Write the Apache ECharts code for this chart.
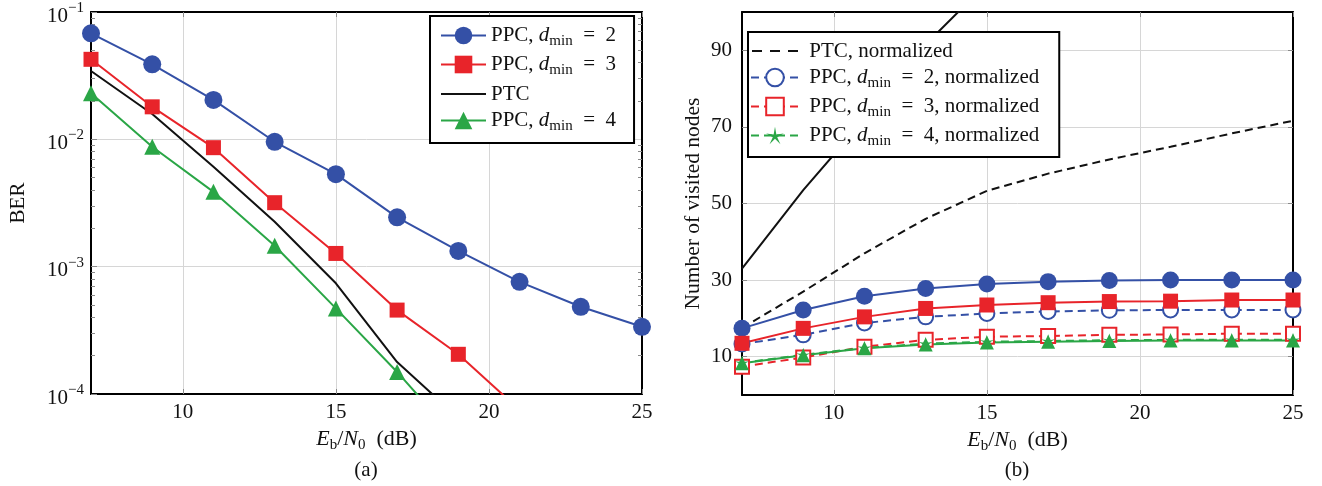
<!DOCTYPE html>
<html><head><meta charset="utf-8">
<script src="https://cdn.jsdelivr.net/npm/echarts@6/dist/echarts.min.js"></script>
<style>html,body{margin:0;padding:0;background:#fff}#c{width:1322px;height:486px}</style>
</head><body><div id="c"></div>
<script>
// ---- data ----
const ebn0 = [7, 9, 11, 13, 15, 17, 19, 21, 23, 25];
const berPPC2 = [0.068, 0.0388, 0.0204, 0.00957, 0.00533, 0.00244, 0.00133, 0.00076, 0.000484, 0.000337];
const berPPC3 = [0.0425, 0.018, 0.0086, 0.00318, 0.00127, 0.000456, 0.000205, 0.000075];
const berPTC  = [0.0344, 0.0158, 0.0061, 0.00225, 0.00074, 0.000178, 0.000065];
const berPPC4 = [0.023, 0.00875, 0.00387, 0.00146, 0.00047, 0.000149, 0.000043];

const nodesPTC      = [33, 53.5, 72, 91.5, 107.5, 122, 136, 148, 160, 170];
const nodesPTCNorm  = [17.5, 27, 37, 46, 53.3, 57.8, 61.5, 64.8, 68.3, 71.6];
const nodesPPC2     = [17.4, 22.2, 25.8, 27.8, 29.0, 29.6, 29.9, 30.0, 30.0, 30.0];
const nodesPPC2Norm = [13.3, 15.7, 18.8, 20.4, 21.3, 21.8, 22.1, 22.2, 22.2, 22.2];
const nodesPPC3     = [13.5, 17.4, 20.4, 22.6, 23.5, 24.1, 24.4, 24.5, 24.8, 24.8];
const nodesPPC3Norm = [7.4, 9.8, 12.6, 14.4, 15.2, 15.4, 15.7, 15.8, 16.0, 16.0];
const nodesPPC4     = [8.3, 10.4, 12.2, 13.2, 13.7, 13.9, 14.1, 14.2, 14.2, 14.2];
const nodesPPC4Norm = [8.4, 10.5, 12.3, 13.4, 13.9, 14.1, 14.3, 14.4, 14.4, 14.4];

const xTicks = [10, 15, 20, 25];
const nodeTicks = [10, 30, 50, 70, 90];
const leftNames = ['PPC, d_min = 2', 'PPC, d_min = 3', 'PTC', 'PPC, d_min = 4'];
const rightNames = ['PTC, normalized', 'PPC, d_min = 2, normalized', 'PPC, d_min = 3, normalized', 'PPC, d_min = 4, normalized'];

// ---- style ----
const SERIF = "'Liberation Serif', 'DejaVu Serif', serif";
const BLUE = '#3450a6', RED = '#e8242a', GREEN = '#2aa646', BLACK = '#111111';
const GRID = '#d6d6d6', TICK = '#8a8a8a';
const STAR = 'path://M0,-10 L1.47,-2.02 L9.51,-3.09 L2.38,0.77 L5.88,8.09 L0,2.5 L-5.88,8.09 L-2.38,0.77 L-9.51,-3.09 L-1.47,-2.02 Z';
const ICON_SOLID = 'path://M0,0 M0,22 M0,10 L45,10 L45,12 L0,12 Z';
const ICON_DASH = 'path://M0,0 M0,22 M0,10 L10,10 L10,12 L0,12 Z M18,10 L28,10 L28,12 L18,12 Z M36,10 L46,10 L46,12 L36,12 Z';

const minorLog = [];
for (let d = -4; d < -1; d++) for (let k = 2; k <= 9; k++) minorLog.push(d + Math.log10(k));

function rich(size) {
  return {
    t: { fontFamily: SERIF, fontSize: size, color: BLACK, lineHeight: 26 },
    i: { fontFamily: SERIF, fontSize: size, color: BLACK, fontStyle: 'italic', lineHeight: 26 },
    s: { fontFamily: SERIF, fontSize: Math.round(size * 0.7), color: BLACK, padding: [12, 0, 0, 0] }
  };
}
function legendFmt(name) {
  const parts = name.replace(/ = /g, '\u2002=\u2002').split('d_min');
  return parts.map(p => p ? '{t|' + p + '}' : '').join('{i|d}{s|min}');
}
function legendFmtR(name) { return '{t| }' + legendFmt(name); }
const pair = (ys) => ys.map((v, i) => [ebn0[i], v]);

function line(name, ys, color, symbol, size, dashed, xi, yi) {
  const empty = symbol.indexOf('empty') === 0;
  return {
    type: 'line', name: name, data: pair(ys), xAxisIndex: xi, yAxisIndex: yi,
    symbol: symbol, symbolSize: size, showSymbol: symbol !== 'none',
    clip: true, animation: false, silent: true,
    lineStyle: { color: color, width: 2, type: dashed ? [8, 5] : 'solid' },
    itemStyle: { color: color, borderColor: color, borderWidth: empty ? 2 : 0 },
    emphasis: { disabled: true }
  };
}

const xBase = (gi, pos) => ({
  type: 'value', gridIndex: gi, position: pos, min: 7, max: 25,
  axisLine: { show: true, onZero: false, lineStyle: { color: '#000', width: 2 } },
  axisTick: { show: true, inside: true, length: 5, customValues: xTicks, lineStyle: { color: TICK } },
  axisLabel: pos === 'bottom' ? { show: true, customValues: xTicks, fontFamily: SERIF, fontSize: 21, color: BLACK, margin: 8 } : { show: false },
  splitLine: { show: pos === 'bottom', lineStyle: { color: GRID, width: 1 } },
  name: pos === 'bottom' ? '{i|E}{s|b}{t|/}{i|N}{s|0}{t|\u2002(dB)}' : '',
  nameLocation: 'middle', nameGap: 32,
  nameTextStyle: { rich: rich(22) }
});

const option = {
  backgroundColor: '#fff',
  animation: false,
  grid: [
    { left: 91, top: 12, width: 551, height: 382, containLabel: false },
    { left: 742, top: 12, width: 551, height: 383, containLabel: false }
  ],
  xAxis: [xBase(0, 'bottom'), xBase(0, 'top'), xBase(1, 'bottom'), xBase(1, 'top')],
  yAxis: [
    { type: 'log', logBase: 10, gridIndex: 0, position: 'left', min: 1e-4, max: 1e-1,
      axisLine: { show: true, lineStyle: { color: '#000', width: 2 } },
      axisTick: { show: true, inside: true, length: 6, lineStyle: { color: TICK } },
      axisLabel: { fontFamily: SERIF, margin: 7, color: BLACK,
        formatter: v => '{b|10}{p|\u2212' + (-Math.round(Math.log10(v))) + '}',
        rich: { b: { fontFamily: SERIF, fontSize: 21, color: BLACK, padding: [8, 0, 0, 0] },
                p: { fontFamily: SERIF, fontSize: 15, color: BLACK, padding: [0, 0, 8, 0] } } },
      splitLine: { show: true, lineStyle: { color: GRID, width: 1 } },
      name: 'BER', nameLocation: 'middle', nameGap: 62,
      nameTextStyle: { fontFamily: SERIF, fontSize: 21, color: BLACK } },
    { type: 'value', gridIndex: 0, position: 'right', min: -4, max: -1,
      axisLine: { show: true, lineStyle: { color: '#000', width: 2 } },
      axisTick: { show: true, inside: true, length: 4, customValues: minorLog, lineStyle: { color: TICK } },
      axisLabel: { show: false }, splitLine: { show: false } },
    { type: 'value', gridIndex: 0, position: 'left', min: -4, max: -1,
      axisLine: { show: false },
      axisTick: { show: true, inside: true, length: 4, customValues: minorLog, lineStyle: { color: TICK } },
      axisLabel: { show: false }, splitLine: { show: false } },
    { type: 'value', gridIndex: 1, position: 'left', min: 0, max: 100,
      axisLine: { show: true, lineStyle: { color: '#000', width: 2 } },
      axisTick: { show: true, inside: true, length: 5, customValues: nodeTicks, lineStyle: { color: TICK } },
      axisLabel: { customValues: nodeTicks, fontFamily: SERIF, fontSize: 21, color: BLACK, margin: 10 },
      splitLine: { show: true, lineStyle: { color: GRID, width: 1 } },
      name: 'Number of visited nodes', nameLocation: 'middle', nameGap: 38,
      nameTextStyle: { fontFamily: SERIF, fontSize: 21.5, color: BLACK } },
    { type: 'value', gridIndex: 1, position: 'right', min: 0, max: 100,
      axisLine: { show: true, lineStyle: { color: '#000', width: 2 } },
      axisTick: { show: true, inside: true, length: 5, customValues: nodeTicks, lineStyle: { color: TICK } },
      axisLabel: { show: false }, splitLine: { show: false } }
  ],
  legend: [
    { orient: 'vertical', left: 430, top: 16, itemWidth: 45, itemHeight: 22, itemGap: 5,
      padding: [9, 18, 9, 10], borderColor: '#000', borderWidth: 2, backgroundColor: '#fff',
      selectedMode: false,
      data: leftNames.map(n => n === 'PTC' ? { name: n, icon: ICON_SOLID } : n),
      formatter: legendFmt,
      textStyle: { fontFamily: SERIF, fontSize: 21, color: BLACK, rich: rich(21) } },
    { orient: 'vertical', left: 748, top: 32, itemWidth: 48, itemHeight: 22, itemGap: 5,
      padding: [8, 20, 8, 2], borderColor: '#000', borderWidth: 2, backgroundColor: '#fff',
      selectedMode: false,
      data: rightNames.map(n => n === 'PTC, normalized' ? { name: n, icon: ICON_DASH } : n),
      formatter: legendFmtR,
      textStyle: { fontFamily: SERIF, fontSize: 21, color: BLACK, rich: rich(21) } }
  ],
  graphic: [
    { type: 'text', x: 366, y: 470, style: { text: '(a)', font: '21px ' + SERIF, fill: BLACK, align: 'center', verticalAlign: 'middle' } },
    { type: 'text', x: 1017, y: 470, style: { text: '(b)', font: '21px ' + SERIF, fill: BLACK, align: 'center', verticalAlign: 'middle' } }
  ],
  series: [
    line(leftNames[0], berPPC2, BLUE, 'circle', 18, false, 0, 0),
    line(leftNames[1], berPPC3, RED, 'rect', 15, false, 0, 0),
    line(leftNames[2], berPTC, BLACK, 'none', 0, false, 0, 0),
    line(leftNames[3], berPPC4, GREEN, 'triangle', 16, false, 0, 0),

    line('PTC', nodesPTC, BLACK, 'none', 0, false, 2, 3),
    line(rightNames[0], nodesPTCNorm, BLACK, 'none', 0, true, 2, 3),
    line('PPC2', nodesPPC2, BLUE, 'circle', 17, false, 2, 3),
    line(rightNames[1], nodesPPC2Norm, BLUE, 'emptyCircle', 15, true, 2, 3),
    line('PPC3', nodesPPC3, RED, 'rect', 15, false, 2, 3),
    line(rightNames[2], nodesPPC3Norm, RED, 'emptyRect', 14, true, 2, 3),
    line('PPC4', nodesPPC4, GREEN, 'triangle', 14, false, 2, 3),
    line(rightNames[3], nodesPPC4Norm, GREEN, STAR, 14, true, 2, 3)
  ]
};
const chart = echarts.init(document.getElementById('c'), null, { renderer: 'canvas' });
chart.setOption(option);
</script></body></html>
